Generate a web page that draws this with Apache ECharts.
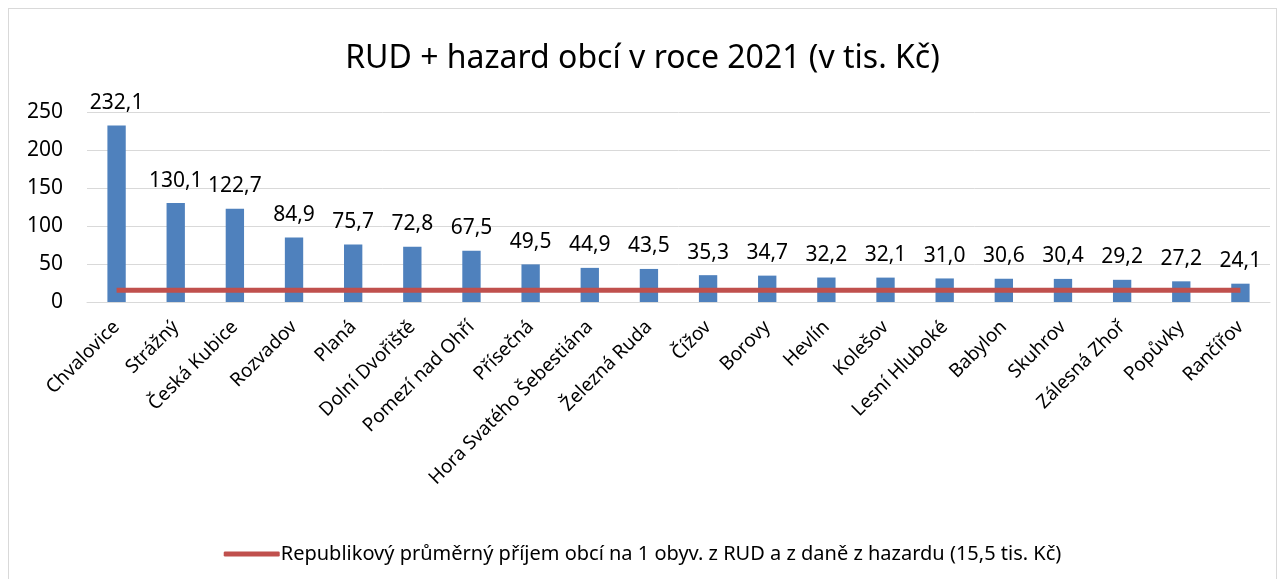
<!DOCTYPE html>
<html>
<head>
<meta charset="utf-8">
<script src="https://cdnjs.cloudflare.com/ajax/libs/echarts/6.0.0/echarts.min.js"></script>
<style>
html,body{margin:0;padding:0;background:#fff;}
#chart{position:absolute;left:8px;top:8px;width:1269px;height:580px;border:1px solid #d9d9d9;box-sizing:border-box;}
</style>
</head>
<body>
<div id="chart"></div>
<script>
var obce = ['Chvalovice','Strážný','Česká Kubice','Rozvadov','Planá','Dolní Dvořiště','Pomezí nad Ohří','Přísečná','Hora Svatého Šebestiána','Železná Ruda','Čížov','Borovy','Hevlín','Kolešov','Lesní Hluboké','Babylon','Skuhrov','Zálesná Zhoř','Popůvky','Rančířov'];
var hodnoty = [232.1,130.1,122.7,84.9,75.7,72.8,67.5,49.5,44.9,43.5,35.3,34.7,32.2,32.1,31.0,30.6,30.4,29.2,27.2,24.1];
var prumer = 15.5;
var prumerData = obce.map(function(){ return prumer; });
var nazevPrumeru = 'Republikový průměrný příjem obcí na 1 obyv. z RUD a z daně z hazardu (15,5 tis. Kč)';

var font = '"Noto Sans", sans-serif';
var myChart = echarts.init(document.getElementById('chart'));
myChart.setOption({
  backgroundColor: '#fff',
  animation: false,
  textStyle: {fontFamily: font},
  title: {
    text: 'RUD + hazard obcí v roce 2021 (v tis. Kč)',
    left: 'center', top: 29,
    textStyle: {fontSize: 32, fontWeight: 'normal', color: '#000', fontFamily: font}
  },
  legend: {
    data: [{name: nazevPrumeru, icon: 'roundRect'}],
    bottom: 18, left: 'center',
    itemWidth: 56, itemHeight: 5,
    itemGap: 0,
    textStyle: {fontSize: 20, color: '#000', fontFamily: font, padding: [0,0,0,-4]}
  },
  grid: {left: 78, right: 6, top: 103, height: 190},
  xAxis: {
    type: 'category',
    data: obce,
    axisTick: {show: false},
    axisLine: {lineStyle: {color: '#d9d9d9'}},
    axisLabel: {rotate: 45, interval: 0, fontSize: 19, color: '#000', margin: 22, fontFamily: font}
  },
  yAxis: {
    type: 'value',
    min: 0, max: 250, interval: 50,
    axisLine: {show: false},
    axisTick: {show: false},
    splitLine: {lineStyle: {color: '#d9d9d9', width: 1}},
    axisLabel: {fontSize: 21, color: '#000', margin: 24, fontFamily: font}
  },
  series: [
    {
      name: 'RUD + hazard',
      type: 'bar',
      data: hodnoty,
      barWidth: '31%',
      itemStyle: {color: '#4F81BD'},
      label: {
        show: true, position: 'top', distance: 12,
        fontSize: 21, color: '#000', fontFamily: font,
        formatter: function(p){ return p.value.toFixed(1).replace('.', ','); }
      }
    },
    {
      name: nazevPrumeru,
      type: 'line',
      data: prumerData,
      symbol: 'none',
      lineStyle: {color: '#C0504D', width: 5},
      itemStyle: {color: '#C0504D'}
    }
  ]
});
</script>
</body>
</html>
